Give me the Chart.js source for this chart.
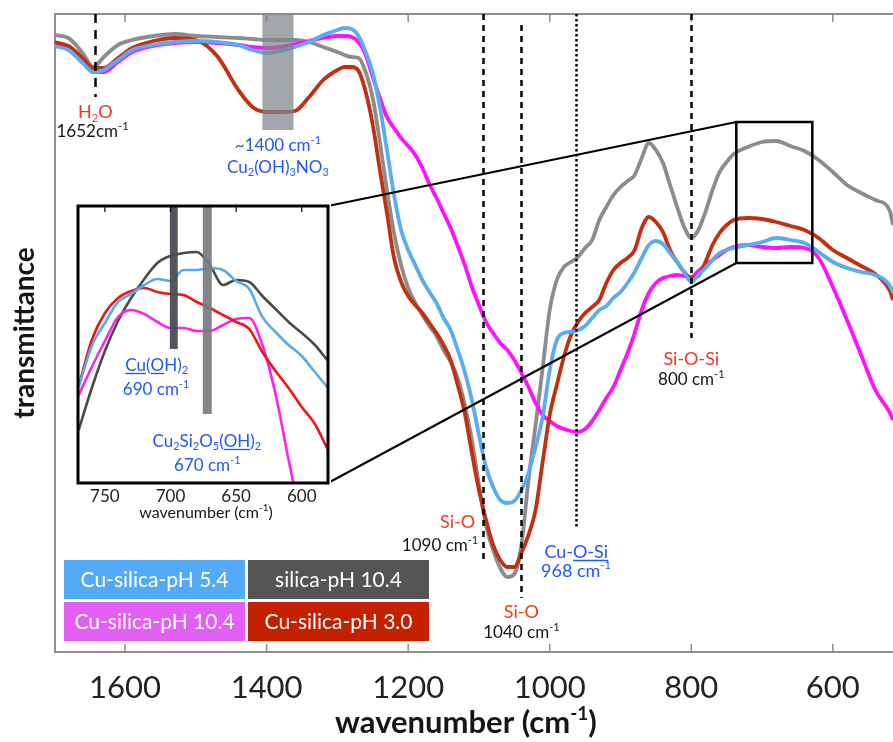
<!DOCTYPE html>
<html>
<head>
<meta charset="utf-8">
<title>FTIR transmittance</title>
<script src="https://cdn.jsdelivr.net/npm/chart.js@4.4.1/dist/chart.umd.min.js"></script>
<style>
  html, body { margin: 0; padding: 0; background: #fff; }
  #wrap { position: relative; width: 893px; height: 742px; overflow: hidden; }
  #main { position: absolute; left: 0; top: 0; width: 893px; height: 742px; }
  #inset { position: absolute; left: 66px; top: 200px; width: 265px; height: 330px; }
</style>
</head>
<body>
<div id="wrap">
  <canvas id="main" width="893" height="742"></canvas>
  <canvas id="inset" width="265" height="330"></canvas>
</div>
<script>
// main spectrum, wavenumber in cm-1, transmittance in arbitrary units
const wavenumbers = [1700, 1680, 1660, 1645, 1630, 1610, 1590, 1560, 1530, 1500, 1470, 1440, 1420, 1400, 1380, 1360, 1340, 1320, 1300,
  1290, 1280, 1270, 1260, 1250, 1240, 1230, 1220, 1210, 1200, 1190, 1180, 1170, 1160, 1150, 1140, 1130, 1120, 1110, 1100,
  1090, 1080, 1070, 1060, 1050, 1040, 1030, 1020, 1010, 1000, 990, 980, 970, 960, 950, 940, 930, 920, 910, 900,
  890, 880, 870, 860, 850, 840, 830, 820, 810, 800, 790, 780, 770, 760, 750, 740, 720, 700, 680, 660, 640, 620,
  600, 580, 560, 540, 520, 515];

const silicaPh104 = [61.7, 61.4, 59.9, 58.5, 59.5, 60.7, 61.2, 61.6, 61.8, 61.6, 61.5, 61.4, 61.3, 61.2, 61.2, 61.2, 61.0, 60.5, 60.0,
  59.7, 59.5, 59.4, 58.0, 55.4, 51.0, 46.2, 41.9, 38.7, 36.4, 34.9, 33.7, 32.6, 31.6, 30.2, 29.0, 27.4, 24.7, 21.2, 16.7,
  12.7, 10.2, 8.4, 7.5, 7.8, 10.7, 17.2, 22.7, 28.4, 34.2, 37.2, 38.5, 39.0, 39.5, 40.4, 41.2, 43.2, 44.5, 45.7, 46.5,
  47.1, 47.7, 49.4, 50.9, 50.2, 48.9, 46.7, 44.5, 42.5, 41.4, 42.2, 44.0, 46.2, 48.0, 49.0, 49.8, 50.5, 51.0, 51.1, 50.6, 50.1, 49.2,
  48.0, 46.7, 45.9, 45.2, 44.2, 42.7];

const cuSilicaPh54 = [60.6, 60.2, 58.9, 58.0, 58.2, 59.2, 60.2, 60.7, 61.0, 61.1, 61.0, 60.7, 60.2, 59.9, 60.1, 60.5, 61.0, 61.7, 62.2,
  62.4, 62.3, 61.6, 60.0, 57.9, 54.5, 50.2, 45.7, 42.2, 40.2, 38.7, 37.2, 36.0, 34.9, 33.4, 32.2, 30.2, 28.0, 25.2, 21.7,
  18.5, 16.5, 15.2, 14.9, 15.1, 16.2, 17.9, 20.5, 23.5, 28.2, 31.2, 31.9, 32.0, 32.2, 32.6, 33.4, 34.2, 34.6, 35.4, 36.0,
  36.9, 38.0, 39.4, 40.7, 41.1, 40.8, 39.9, 39.0, 38.0, 37.0, 37.7, 38.4, 39.2, 39.9, 40.2, 40.4, 40.7, 41.0, 41.4, 41.2, 40.9, 40.0,
  39.0, 38.4, 38.0, 37.7, 36.7, 35.9];

const cuSilicaPh104 = [60.8, 60.4, 59.0, 58.0, 58.0, 59.0, 60.0, 60.6, 60.9, 61.0, 60.9, 60.7, 60.5, 60.4, 60.5, 60.8, 61.1, 61.4, 61.6,
  61.6, 61.5, 61.0, 59.7, 57.5, 55.4, 53.5, 52.4, 51.4, 50.6, 49.7, 48.4, 46.8, 45.4, 43.9, 42.4, 40.6, 38.7, 36.5, 34.7,
  33.0, 31.9, 30.9, 30.2, 29.2, 27.9, 26.5, 24.9, 23.7, 23.1, 22.6, 22.3, 22.1, 22.0, 22.3, 23.1, 24.2, 25.4, 26.5, 28.2,
  29.9, 31.9, 34.2, 35.9, 36.9, 37.4, 37.6, 37.7, 37.6, 37.5, 38.1, 38.7, 39.2, 39.7, 40.2, 40.5, 40.7, 40.5, 40.4, 40.5, 40.4, 39.4,
  36.5, 33.2, 29.7, 26.2, 24.0, 23.2];

const cuSilicaPh30 = [61.0, 60.6, 59.4, 58.4, 58.4, 59.4, 60.4, 61.1, 61.4, 61.2, 59.6, 56.2, 54.5, 54.0, 54.0, 54.1, 55.5, 57.2, 58.2,
  58.5, 58.5, 58.1, 56.0, 52.7, 48.2, 43.9, 39.4, 37.0, 35.6, 34.7, 33.9, 32.9, 31.9, 30.7, 29.2, 26.7, 23.9, 19.9, 16.2,
  13.2, 10.7, 9.2, 8.5, 8.5, 9.9, 11.7, 14.2, 19.0, 23.7, 26.7, 29.5, 31.7, 33.0, 33.9, 34.5, 35.2, 36.9, 38.2, 38.9,
  39.4, 40.2, 42.4, 43.5, 43.0, 42.0, 40.2, 39.0, 38.0, 37.4, 37.6, 39.0, 40.7, 41.9, 42.7, 43.2, 43.4, 43.3, 43.0, 42.6, 42.2, 41.4,
  40.2, 39.4, 38.6, 37.8, 36.2, 35.2];

const xTicks = [1600, 1400, 1200, 1000, 800, 600];

// inset, 770-580 cm-1, own transmittance scale
const insetWavenumbers = [770, 760, 750, 740, 730, 720, 710, 700, 690, 680, 670, 660, 650, 640, 630, 620, 610, 600, 590, 580];
const insetSilicaPh104 = [5.3, 9.5, 13.2, 16.2, 18.5, 20.4, 22.0, 22.7, 23.0, 23.1, 21.8, 19.8, 20.3, 20.1, 18.7, 17.4, 16.1, 15.0, 13.8, 12.2];
const insetCuSilicaPh54 = [9.6, 13.7, 16.0, 18.1, 18.9, 19.8, 20.4, 20.2, 21.3, 21.3, 21.5, 21.3, 20.2, 19.4, 16.6, 15.1, 13.8, 12.7, 11.1, 9.5];
const insetCuSilicaPh104 = [8.8, 11.6, 14.2, 16.6, 17.3, 16.9, 16.1, 15.5, 15.5, 15.2, 15.2, 15.8, 16.4, 16.5, 13.8, 8.9, 2.3, -4.2, null, null];
const insetCuSilicaPh30 = [9.7, 14.3, 17.0, 18.5, 19.2, 19.5, 19.1, 18.9, 18.8, 18.1, 17.5, 16.8, 16.1, 15.4, 13.1, 11.2, 9.5, 7.6, 5.9, 3.3];
const insetTicks = [750, 700, 650, 600];

const FONT = 'Lato, "Open Sans", sans-serif';
const RED = '#f2361c';
const BLUE = '#2258f2';
const INK = '#151515';
Chart.defaults.font.family = FONT;

// text with _{sub}, ^{sup} and [underline]
function drawRich(ctx, text, x, y, size, color, align, weight) {
  const parts = [];
  const re = /_\{([^}]*)\}|\^\{([^}]*)\}|\[([^\]]*)\]|([^_^\[]+)/g;
  let m;
  while ((m = re.exec(text))) {
    if (m[1] !== undefined) parts.push({ t: m[1], k: 'sub' });
    else if (m[2] !== undefined) parts.push({ t: m[2], k: 'sup' });
    else if (m[3] !== undefined) parts.push({ t: m[3], k: 'u' });
    else parts.push({ t: m[4], k: 'n' });
  }
  const w8 = weight ? weight + ' ' : '';
  const fontFor = (k) => w8 + (k === 'sub' || k === 'sup' ? Math.round(size * 0.62) : size) + 'px ' + FONT;
  let w = 0;
  parts.forEach((p) => { ctx.font = fontFor(p.k); p.w = ctx.measureText(p.t).width; w += p.w; });
  let cx = align === 'right' ? x - w : align === 'left' ? x : x - w / 2;
  ctx.save();
  ctx.fillStyle = color;
  ctx.strokeStyle = color;
  ctx.textAlign = 'left';
  ctx.textBaseline = 'alphabetic';
  parts.forEach((p) => {
    ctx.font = fontFor(p.k);
    const dy = p.k === 'sub' ? size * 0.2 : p.k === 'sup' ? -size * 0.42 : 0;
    ctx.fillText(p.t, cx, y + dy);
    if (p.k === 'u') {
      ctx.lineWidth = 1.3;
      ctx.beginPath();
      ctx.moveTo(cx, y + 2.5);
      ctx.lineTo(cx + p.w, y + 2.5);
      ctx.stroke();
    }
    cx += p.w;
  });
  ctx.restore();
}

const toPoints = (xs, ys) => xs.map((x, i) => ({ x: x, y: ys[i] }));

// ---------- inset ----------
const insetBars = [
  { from: 700.5, to: 694.5, down: 13.4, color: 'rgba(72,77,84,0.95)' },
  { from: 675.4, to: 668.6, down: 6.9, color: 'rgba(118,122,128,0.92)' }
];

const insetLabels = [
  { text: '[Cu]([O]H)_{2}', wn: 710.5, y: 171 },
  { text: '690 cm^{-1}', wn: 711, y: 195 },
  { text: 'Cu_{2}Si_{2}O_{5}([OH])_{2}', wn: 672.3, y: 247 },
  { text: '670 cm^{-1}', wn: 672, y: 271 }
];

const insetDecor = {
  id: 'insetDecor',
  beforeDraw(chart) {
    const { ctx, width, height } = chart;
    ctx.save();
    ctx.fillStyle = '#fff';
    ctx.fillRect(0, 0, width, height);
    ctx.restore();
  },
  afterDatasetsDraw(chart) {
    const { ctx, chartArea: a, scales: { x, y } } = chart;
    ctx.save();
    insetBars.forEach((b) => {
      const x0 = x.getPixelForValue(b.from);
      const x1 = x.getPixelForValue(b.to);
      ctx.fillStyle = b.color;
      ctx.fillRect(Math.min(x0, x1), a.top, Math.abs(x1 - x0), y.getPixelForValue(b.down) - a.top);
    });
    ctx.strokeStyle = '#000';
    ctx.lineWidth = 1.2;
    insetTicks.forEach((v) => {
      const px = x.getPixelForValue(v);
      ctx.beginPath();
      ctx.moveTo(px, a.top);
      ctx.lineTo(px, a.top + 6);
      ctx.stroke();
    });
    ctx.lineWidth = 3;
    ctx.strokeRect(a.left, a.top, a.right - a.left, a.bottom - a.top);
    ctx.restore();
    insetLabels.forEach((l) => drawRich(ctx, l.text, x.getPixelForValue(l.wn), l.y, 17, BLUE, 'center'));
    drawRich(ctx, 'wavenumber (cm^{-1})', (a.left + a.right) / 2 + 3, 318, 16, INK, 'center');
  }
};

const insetChart = new Chart(document.getElementById('inset'), {
  type: 'line',
  data: {
    datasets: [
      { label: 'Cu-silica-pH 5.4', data: toPoints(insetWavenumbers, insetCuSilicaPh54), borderColor: '#5aa8ec' },
      { label: 'Cu-silica-pH 3.0', data: toPoints(insetWavenumbers, insetCuSilicaPh30), borderColor: '#f01414' },
      { label: 'Cu-silica-pH 10.4', data: toPoints(insetWavenumbers, insetCuSilicaPh104), borderColor: '#ff22ee' },
      { label: 'silica-pH 10.4', data: toPoints(insetWavenumbers, insetSilicaPh104), borderColor: '#4a4a4a' }
    ]
  },
  options: {
    responsive: false,
    animation: false,
    layout: { padding: { left: 12, top: 6, right: 3, bottom: 0 } },
    elements: {
      line: { borderWidth: 2.6, cubicInterpolationMode: 'monotone', fill: false },
      point: { radius: 0 }
    },
    plugins: { legend: { display: false }, tooltip: { enabled: false } },
    scales: {
      x: {
        type: 'linear',
        reverse: true,
        min: 580,
        max: 770.5,
        afterBuildTicks: (s) => { s.ticks = insetTicks.map((v) => ({ value: v })); },
        afterFit: (s) => { s.height = 47; },
        grid: { display: false, drawTicks: false },
        border: { display: false },
        ticks: { callback: (v) => String(v), font: { size: 17 }, color: '#222', padding: 3, autoSkip: false, maxRotation: 0 }
      },
      y: { display: false, min: 0, max: 27.7 }
    }
  },
  plugins: [insetDecor]
});

// ---------- main ----------
const markers = [
  { wn: 1642, from: 63.8, to: 55.5, dash: [9, 7] },
  { wn: 1094, from: 63.8, to: 9.0, dash: [6, 5] },
  { wn: 1040, from: 62.7, to: 5.4, dash: [6, 5] },
  { wn: 962.5, from: 63.8, to: 12.4, dash: [2.5, 2.5] },
  { wn: 800, from: 63.8, to: 31.4, dash: [6, 5] }
];

const mainLabels = [
  { text: 'H_{2}O', wn: 1642, y: 118, color: RED, size: 18 },
  { text: '1652cm^{-1}', wn: 1646, y: 137, color: INK, size: 17 },
  { text: '~1400 cm^{-1}', wn: 1384, y: 151, color: BLUE, size: 17 },
  { text: 'Cu_{2}(OH)_{3}NO_{3}', wn: 1384, y: 173, color: BLUE, size: 17 },
  { text: 'Si-O', wn: 1094, dx: -8, y: 528, color: RED, size: 18, align: 'right' },
  { text: '1090 cm^{-1}', wn: 1094, dx: -5, y: 551, color: INK, size: 17, align: 'right' },
  { text: 'Si-O', wn: 1040, y: 618, color: RED, size: 18 },
  { text: '1040 cm^{-1}', wn: 1040, y: 638, color: INK, size: 17 },
  { text: 'Cu-[O-Si]', wn: 962.5, y: 558, color: BLUE, size: 18 },
  { text: '968 cm^{-1}', wn: 963, y: 577, color: BLUE, size: 18 },
  { text: 'Si-O-Si', wn: 800, y: 365, color: RED, size: 18 },
  { text: '800 cm^{-1}', wn: 800, y: 385, color: INK, size: 17 }
];

// legend grid: [dataset index, column, row]
const legendCells = [[0, 0, 0], [3, 1, 0], [2, 0, 1], [1, 1, 1]];

const mainDecor = {
  id: 'mainDecor',
  beforeDatasetsDraw(chart) {
    const { ctx, chartArea: a, scales: { x } } = chart;
    ctx.save();
    ctx.strokeStyle = '#8e8e8e';
    ctx.lineWidth = 2;
    ctx.beginPath();
    ctx.moveTo(a.right, a.top);
    ctx.lineTo(a.left, a.top);
    ctx.lineTo(a.left, a.bottom);
    ctx.lineTo(a.right, a.bottom);
    ctx.stroke();
    ctx.lineWidth = 1.5;
    xTicks.forEach((v) => {
      const px = x.getPixelForValue(v);
      ctx.beginPath();
      ctx.moveTo(px, a.top);
      ctx.lineTo(px, a.top + 8);
      ctx.moveTo(px, a.bottom);
      ctx.lineTo(px, a.bottom - 8);
      ctx.stroke();
    });
    ctx.restore();
  },
  afterDatasetsDraw(chart) {
    const { ctx, chartArea: a, scales: { x, y } } = chart;
    ctx.save();

    // nitrate band
    const b0 = x.getPixelForValue(1406);
    const b1 = x.getPixelForValue(1362);
    ctx.fillStyle = 'rgba(128,132,138,0.72)';
    ctx.fillRect(b0, a.top, b1 - b0, y.getPixelForValue(52.2) - a.top);

    // peak markers
    ctx.strokeStyle = '#000';
    ctx.lineWidth = 2.5;
    markers.forEach((mk) => {
      const px = Math.round(x.getPixelForValue(mk.wn)) + 0.5;
      ctx.setLineDash(mk.dash);
      ctx.beginPath();
      ctx.moveTo(px, y.getPixelForValue(mk.from));
      ctx.lineTo(px, y.getPixelForValue(mk.to));
      ctx.stroke();
    });
    ctx.setLineDash([]);

    // zoom box and connectors to the inset
    const zl = x.getPixelForValue(736.4);
    const zr = x.getPixelForValue(629);
    const zt = y.getPixelForValue(53.0);
    const zb = y.getPixelForValue(38.9);
    ctx.lineWidth = 2.5;
    ctx.strokeRect(zl, zt, zr - zl, zb - zt);
    const ia = insetChart.chartArea;
    const ox = insetChart.canvas.offsetLeft;
    const oy = insetChart.canvas.offsetTop;
    ctx.lineWidth = 2;
    ctx.beginPath();
    ctx.moveTo(ox + ia.right, oy + ia.top);
    ctx.lineTo(zl, zt);
    ctx.moveTo(ox + ia.right, oy + ia.bottom);
    ctx.lineTo(zl, zb);
    ctx.stroke();

    // legend blocks
    const ds = chart.data.datasets;
    const bw = 181, bh = 39, gap = 3, lx = 64, ly = 560;
    ctx.textAlign = 'center';
    ctx.textBaseline = 'middle';
    ctx.font = '21px ' + FONT;
    legendCells.forEach(([i, col, row]) => {
      const bx = lx + col * (bw + gap);
      const by = ly + row * (bh + gap);
      ctx.fillStyle = ds[i].boxColor;
      ctx.fillRect(bx, by, bw, bh);
      ctx.fillStyle = '#fff';
      ctx.fillText(ds[i].label, bx + bw / 2, by + bh / 2 + 1);
    });
    ctx.restore();

    mainLabels.forEach((l) => {
      drawRich(ctx, l.text, x.getPixelForValue(l.wn) + (l.dx || 0), l.y, l.size, l.color, l.align || 'center');
    });
    drawRich(ctx, 'wavenumber (cm^{-1})', 466, 733, 31, INK, 'center', 'bold');
  }
};

new Chart(document.getElementById('main'), {
  type: 'line',
  data: {
    datasets: [
      { label: 'Cu-silica-pH 5.4', data: toPoints(wavenumbers, cuSilicaPh54), borderColor: '#5aacf2', boxColor: '#55aaf7' },
      { label: 'Cu-silica-pH 3.0', data: toPoints(wavenumbers, cuSilicaPh30), borderColor: '#c3300f', boxColor: '#c42100' },
      { label: 'Cu-silica-pH 10.4', data: toPoints(wavenumbers, cuSilicaPh104), borderColor: '#ff10ff', boxColor: '#e35ff3' },
      { label: 'silica-pH 10.4', data: toPoints(wavenumbers, silicaPh104), borderColor: '#8c8c8c', boxColor: '#555555' }
    ]
  },
  options: {
    responsive: false,
    animation: false,
    layout: { padding: { top: 14, right: 0, left: 0, bottom: 0 } },
    elements: {
      line: { borderWidth: 3.8, cubicInterpolationMode: 'monotone', fill: false },
      point: { radius: 0 }
    },
    plugins: { legend: { display: false }, tooltip: { enabled: false } },
    scales: {
      x: {
        type: 'linear',
        reverse: true,
        min: 515,
        max: 1699,
        afterBuildTicks: (s) => { s.ticks = xTicks.map((v) => ({ value: v })); },
        afterFit: (s) => { s.height = 90; },
        grid: { display: false, drawTicks: false },
        border: { display: false },
        ticks: { callback: (v) => String(v), font: { size: 31 }, color: '#222', padding: 17, autoSkip: false, maxRotation: 0 }
      },
      y: {
        min: 0,
        max: 63.8,
        afterFit: (s) => { s.width = 55; },
        grid: { display: false, drawTicks: false },
        border: { display: false },
        ticks: { display: false },
        title: { display: true, text: 'transmittance', color: INK, font: { size: 28, weight: 'bold', lineHeight: 1 }, padding: { top: 11, bottom: 0 } }
      }
    }
  },
  plugins: [mainDecor]
});
</script>
</body>
</html>
